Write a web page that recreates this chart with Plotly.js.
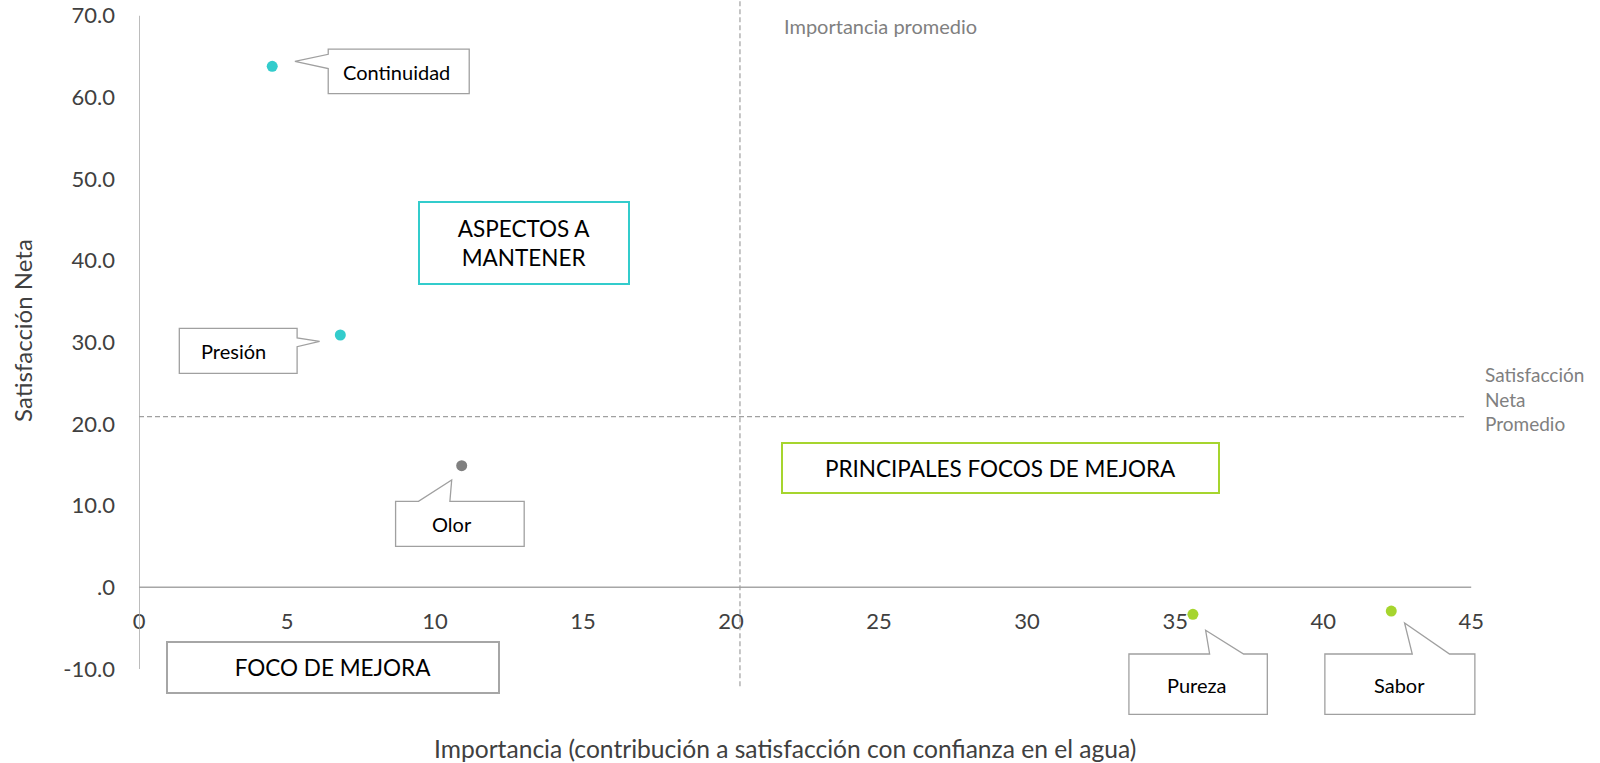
<!DOCTYPE html>
<html>
<head>
<meta charset="utf-8">
<script src="https://cdn.plot.ly/plotly-3.0.1.min.js"></script>
<style>
html, body {margin: 0; padding: 0; background: #fff;}
#chart {width: 1600px; height: 763px;}
</style>
</head>
<body>
<div id="chart"></div>
<script>
// data
let aspectos = ["Continuidad", "Presión", "Olor", "Pureza", "Sabor"]
let importancia = [4.5, 6.8, 10.9, 35.6, 42.3]
let satisfaccion = [63.8, 30.9, 14.9, -3.3, -2.9]

let importanciaPromedio = 20.3
let satisfaccionPromedio = 20.9

let xTicks = [0, 5, 10, 15, 20, 25, 30, 35, 40, 45]
let yTicks = [-10, 0, 10, 20, 30, 40, 50, 60, 70]
let yTickText = ["-10.0", ".0", "10.0", "20.0", "30.0", "40.0", "50.0", "60.0", "70.0"]

// styles
let pointColors = ["#33CCCC", "#33CCCC", "#808080", "#A6D52E", "#A6D52E"]
let font = "Lato, 'Open Sans', sans-serif"
let xRange = [0, 45.5]
let yRange = [-16, 71.8]

//Callout bubbles, in pixels relative to each point (y up).
let callouts = {
	"Continuidad": {path: "M56,17.3 L197,17.3 L197,-27.3 L56,-27.3 L56,-2.3 L22.7,5 L56,12 Z", text: [124.4, -5.7]},
	"Presión": {path: "M-161,6.6 L-43.2,6.6 L-43.2,-3 L-20.7,-6.4 L-43.2,-11.7 L-43.2,-38.4 L-161,-38.4 Z", text: [-107, -15.9]},
	"Olor": {path: "M-66.1,-35.7 L-43.2,-35.7 L-10,-14.3 L-11.8,-35.7 L62.5,-35.7 L62.5,-80.7 L-66.1,-80.7 Z", text: [-10, -58.3]},
	"Pureza": {path: "M-64,-39.7 L16.7,-39.7 L12.7,-16 L50.7,-39.7 L74.4,-39.7 L74.4,-100 L-64,-100 Z", text: [3.4, -70.7]},
	"Sabor": {path: "M-66.4,-43 L21,-43 L13.3,-12 L58.3,-43 L83.6,-43 L83.6,-103.3 L-66.4,-103.3 Z", text: [8.3, -74]},
}

let shapes = [
	//axis lines
	{type: "line", xref: "x", yref: "y", x0: 0, x1: 0, y0: yTicks[0], y1: yTicks[yTicks.length - 1], line: {color: "#A6A6A6", width: 1.5}},
	{type: "line", xref: "x", yref: "y", x0: 0, x1: xTicks[xTicks.length - 1], y0: 0, y1: 0, line: {color: "#A6A6A6", width: 1.5}},
	//averages
	{type: "line", xref: "x", yref: "y", x0: 0, x1: 44.8, y0: satisfaccionPromedio, y1: satisfaccionPromedio, line: {color: "#A0A0A0", width: 1.2, dash: "5px,3px"}},
	{type: "line", xref: "x", yref: "y", x0: importanciaPromedio, x1: importanciaPromedio, y0: -12.1, y1: yRange[1], line: {color: "#A0A0A0", width: 1.2, dash: "5px,3px"}},
]

let annotations = []

aspectos.forEach((name, i) => {
	let c = callouts[name]
	shapes.push({
		type: "path", xref: "x", yref: "y",
		xsizemode: "pixel", ysizemode: "pixel",
		xanchor: importancia[i], yanchor: satisfaccion[i],
		path: c.path,
		fillcolor: "#FFFFFF",
		line: {color: "#A0A0A0", width: 1.3},
		layer: "above"
	})
	annotations.push({
		x: importancia[i], y: satisfaccion[i], xref: "x", yref: "y",
		xshift: c.text[0], yshift: c.text[1],
		text: name, showarrow: false,
		font: {family: font, size: 20, color: "#000000"}
	})
})

//quadrant labels
annotations.push({
	x: 13.0, y: 42.2, xref: "x", yref: "y", showarrow: false,
	text: "ASPECTOS A<br>MANTENER", width: 208, height: 80,
	bordercolor: "#33CCCC", borderwidth: 2, borderpad: 0, bgcolor: "#FFFFFF",
	font: {family: font, size: 22.5, color: "#000000"}
})
annotations.push({
	x: 29.1, y: 14.58, xref: "x", yref: "y", showarrow: false,
	text: "PRINCIPALES FOCOS DE MEJORA", width: 435, height: 48,
	bordercolor: "#A6D52E", borderwidth: 2, borderpad: 0, bgcolor: "#FFFFFF",
	font: {family: font, size: 22.5, color: "#000000"}
})
annotations.push({
	x: 6.55, y: -9.78, xref: "x", yref: "y", showarrow: false,
	text: "FOCO DE MEJORA", width: 330, height: 49,
	bordercolor: "#A6A6A6", borderwidth: 2, borderpad: 0, bgcolor: "#FFFFFF",
	font: {family: font, size: 22.5, color: "#000000"}
})

//average labels
annotations.push({
	x: 21.71, y: 68.7, xref: "x", yref: "y", xanchor: "left", showarrow: false,
	text: "Importancia promedio",
	font: {family: font, size: 20, color: "#808080"}
})
annotations.push({
	x: 0.998, y: 23.1, xref: "paper", yref: "y", xanchor: "left", yanchor: "middle", align: "left", showarrow: false,
	text: "Satisfacción<br>Neta<br>Promedio",
	font: {family: font, size: 19, color: "#808080"}
})

//axis titles
annotations.push({
	x: -0.087, y: 0.541, xref: "paper", yref: "paper", xanchor: "center", yanchor: "middle",
	textangle: -90, showarrow: false,
	text: "Satisfacción Neta",
	font: {family: font, size: 24, color: "#404040"}
})
annotations.push({
	x: 0.4797, y: -0.0426, xref: "paper", yref: "paper", xanchor: "center", yanchor: "middle",
	showarrow: false,
	text: "Importancia (contribución a satisfacción con confianza en el agua)",
	font: {family: font, size: 24.6, color: "#404040"}
})

let data = [{
	type: "scatter",
	mode: "markers",
	x: importancia,
	y: satisfaccion,
	text: aspectos,
	marker: {size: 11, color: pointColors},
	cliponaxis: false,
	hoverinfo: "text+x+y"
}]

let layout = {
	width: 1600,
	height: 763,
	margin: {l: 139, r: 114, t: 1, b: 45},
	paper_bgcolor: "#FFFFFF",
	plot_bgcolor: "#FFFFFF",
	showlegend: false,
	font: {family: font},
	xaxis: {
		range: xRange,
		tickvals: xTicks,
		ticktext: xTicks.map(String),
		anchor: "free",
		position: (0 - yRange[0]) / (yRange[1] - yRange[0]),
		showgrid: false, zeroline: false, showline: false, ticks: "",
		ticklabelstandoff: 19,
		tickfont: {family: font, size: 22, color: "#404040"},
		automargin: false
	},
	yaxis: {
		range: yRange,
		tickvals: yTicks,
		ticktext: yTickText,
		showgrid: false, zeroline: false, showline: false, ticks: "",
		ticklabelstandoff: 23,
		tickfont: {family: font, size: 22, color: "#404040"},
		automargin: false
	},
	shapes: shapes,
	annotations: annotations
}

Plotly.newPlot("chart", data, layout, {staticPlot: true})
</script>
</body>
</html>
